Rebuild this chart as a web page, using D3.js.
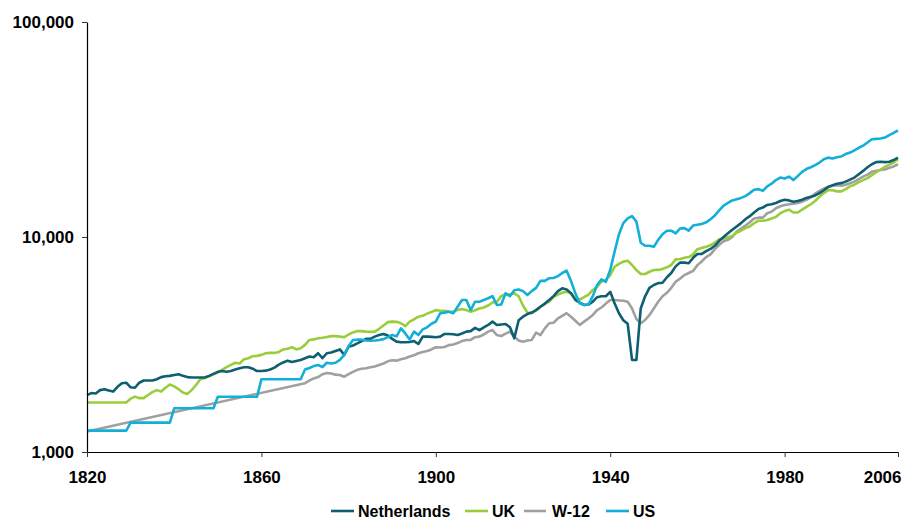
<!DOCTYPE html>
<html>
<head>
<meta charset="utf-8">
<script src="https://cdn.jsdelivr.net/npm/d3@7"></script>
<style>
  html, body { margin: 0; padding: 0; background: #fff; }
  svg { display: block; font-family: "Liberation Sans", Arial, Helvetica, sans-serif; }
</style>
</head>
<body>
<svg id="chart" width="904" height="520"></svg>
<script>
// ---------- DATA ----------
const seriesNames = ["Netherlands", "UK", "W-12", "US"];
const yTickValues = [1000, 10000, 100000];
const xTickValues = [1820, 1860, 1900, 1940, 1980, 2006];

const netherlands = [
  [1820,1840],[1821,1880],[1822,1870],[1823,1940],[1824,1960],[1825,1930],[1826,1910],[1827,2010],[1828,2090],[1829,2100],
  [1830,2000],[1831,1990],[1832,2100],[1833,2150],[1834,2150],[1835,2150],[1836,2180],[1837,2230],[1838,2250],[1839,2260],
  [1840,2280],[1841,2300],[1842,2260],[1843,2230],[1844,2220],[1845,2220],[1846,2220],[1847,2220],[1848,2260],[1849,2310],
  [1850,2360],[1851,2380],[1852,2360],[1853,2380],[1854,2420],[1855,2450],[1856,2480],[1857,2480],[1858,2440],[1859,2380],
  [1860,2380],[1861,2390],[1862,2420],[1863,2470],[1864,2550],[1865,2610],[1866,2660],[1867,2620],[1868,2650],[1869,2680],
  [1870,2730],[1871,2780],[1872,2760],[1873,2880],[1874,2730],[1875,2880],[1876,2900],[1877,2950],[1878,3000],[1879,2830],
  [1880,3090],[1881,3130],[1882,3200],[1883,3280],[1884,3360],[1885,3360],[1886,3440],[1887,3500],[1888,3540],[1889,3480],
  [1890,3360],[1891,3260],[1892,3240],[1893,3240],[1894,3250],[1895,3280],[1896,3180],[1897,3440],[1898,3440],[1899,3430],
  [1900,3420],[1901,3440],[1902,3540],[1903,3540],[1904,3530],[1905,3500],[1906,3560],[1907,3630],[1908,3650],[1909,3780],
  [1910,3690],[1911,3800],[1912,3900],[1913,4040],[1914,3900],[1915,3920],[1916,3940],[1917,3800],[1918,3380],[1919,4100],
  [1920,4260],[1921,4380],[1922,4450],[1923,4570],[1924,4740],[1925,4900],[1926,5090],[1927,5310],[1928,5600],[1929,5770],
  [1930,5700],[1931,5470],[1932,5100],[1933,4950],[1934,4830],[1935,4850],[1936,5000],[1937,5250],[1938,5300],[1939,5300],
  [1940,5560],[1941,4920],[1942,4420],[1943,4100],[1944,3950],[1945,2680],[1946,2680],[1947,4650],[1948,5300],[1949,5800],
  [1950,5980],[1951,6100],[1952,6130],[1953,6500],[1954,6800],[1955,7300],[1956,7600],[1957,7600],[1958,7550],[1959,8000],
  [1960,8340],[1961,8350],[1962,8600],[1963,8800],[1964,9100],[1965,9600],[1966,10000],[1967,10400],[1968,10800],[1969,11200],
  [1970,11600],[1971,12100],[1972,12500],[1973,13000],[1974,13500],[1975,13700],[1976,14100],[1977,14200],[1978,14400],[1979,14700],
  [1980,14900],[1981,14800],[1982,14600],[1983,14700],[1984,14900],[1985,15200],[1986,15400],[1987,15600],[1988,16000],[1989,16500],
  [1990,17100],[1991,17400],[1992,17700],[1993,17800],[1994,18100],[1995,18500],[1996,18900],[1997,19600],[1998,20300],[1999,21100],
  [2000,21800],[2001,22300],[2002,22400],[2003,22300],[2004,22400],[2005,22800],[2006,23400]
];

const uk = [
  [1820,1700],[1829,1700],
  [1830,1770],[1831,1810],[1832,1780],[1833,1780],[1834,1840],[1835,1900],[1836,1940],[1837,1910],[1838,1990],[1839,2060],
  [1840,2020],[1841,1960],[1842,1890],[1843,1860],[1844,1940],[1845,2050],[1846,2180],[1847,2210],[1848,2250],[1849,2300],
  [1850,2340],[1851,2410],[1852,2480],[1853,2540],[1854,2600],[1855,2580],[1856,2700],[1857,2730],[1858,2790],[1859,2800],
  [1860,2830],[1861,2880],[1862,2890],[1863,2890],[1864,2920],[1865,3000],[1866,3020],[1867,3070],[1868,3000],[1869,3040],
  [1870,3150],[1871,3320],[1872,3340],[1873,3380],[1874,3400],[1875,3430],[1876,3460],[1877,3460],[1878,3440],[1879,3420],
  [1880,3520],[1881,3600],[1882,3650],[1883,3650],[1884,3630],[1885,3620],[1886,3630],[1887,3740],[1888,3880],[1889,4020],
  [1890,4040],[1891,4030],[1892,3970],[1893,3850],[1894,4040],[1895,4140],[1896,4260],[1897,4300],[1898,4400],[1899,4480],
  [1900,4570],[1901,4540],[1902,4540],[1903,4500],[1904,4490],[1905,4580],[1906,4620],[1907,4570],[1908,4490],[1909,4560],
  [1910,4650],[1911,4700],[1912,4800],[1913,4960],[1914,5000],[1915,5310],[1916,5430],[1917,5400],[1918,5470],[1919,5300],
  [1920,4800],[1921,4450],[1922,4420],[1923,4570],[1924,4740],[1925,4880],[1926,5000],[1927,5270],[1928,5400],[1929,5500],
  [1930,5560],[1931,5470],[1932,5190],[1933,5120],[1934,5250],[1935,5400],[1936,5670],[1937,5870],[1938,6200],[1939,6310],
  [1940,6650],[1941,7270],[1942,7500],[1943,7680],[1944,7750],[1945,7410],[1946,7020],[1947,6730],[1948,6730],[1949,6890],
  [1950,7020],[1951,7030],[1952,7100],[1953,7230],[1954,7410],[1955,7870],[1956,7900],[1957,8000],[1958,8070],[1959,8300],
  [1960,8780],[1961,8900],[1962,9000],[1963,9150],[1964,9420],[1965,9750],[1966,9850],[1967,9970],[1968,10100],[1969,10500],
  [1970,10700],[1971,11000],[1972,11200],[1973,11600],[1974,11900],[1975,11900],[1976,12000],[1977,12200],[1978,12400],[1979,12900],
  [1980,13200],[1981,13400],[1982,13000],[1983,13000],[1984,13400],[1985,13800],[1986,14200],[1987,14700],[1988,15400],[1989,16000],
  [1990,16500],[1991,16500],[1992,16300],[1993,16300],[1994,16700],[1995,17200],[1996,17500],[1997,18000],[1998,18400],[1999,18800],
  [2000,19400],[2001,20000],[2002,20600],[2003,21200],[2004,21700],[2005,22200],[2006,23000]
];

const w12 = [
  [1820,1245],[1870,2090],
  [1871,2150],[1872,2200],[1873,2230],[1874,2300],[1875,2330],[1876,2320],[1877,2290],[1878,2280],[1879,2240],
  [1880,2300],[1881,2360],[1882,2410],[1883,2440],[1884,2450],[1885,2480],[1886,2500],[1887,2540],[1888,2580],[1889,2640],
  [1890,2670],[1891,2660],[1892,2700],[1893,2730],[1894,2780],[1895,2820],[1896,2880],[1897,2920],[1898,2950],[1899,3000],
  [1900,3070],[1901,3060],[1902,3080],[1903,3140],[1904,3160],[1905,3210],[1906,3280],[1907,3320],[1908,3320],[1909,3420],
  [1910,3440],[1911,3520],[1912,3630],[1913,3690],[1914,3500],[1915,3460],[1916,3550],[1917,3630],[1918,3440],[1919,3300],
  [1920,3260],[1921,3300],[1922,3320],[1923,3590],[1924,3500],[1925,3760],[1926,3970],[1927,3990],[1928,4180],[1929,4300],
  [1930,4420],[1931,4260],[1932,4080],[1933,3900],[1934,4040],[1935,4180],[1936,4340],[1937,4570],[1938,4700],[1939,4900],
  [1940,5090],[1941,5090],[1942,5070],[1943,5050],[1944,5000],[1945,4650],[1946,4150],[1947,3970],[1948,4110],[1949,4340],
  [1950,4650],[1951,5000],[1952,5300],[1953,5500],[1954,5800],[1955,6190],[1956,6400],[1957,6650],[1958,6800],[1959,6950],
  [1960,7400],[1961,7700],[1962,8070],[1963,8300],[1964,8780],[1965,9200],[1966,9550],[1967,9700],[1968,10000],[1969,10600],
  [1970,10950],[1971,11300],[1972,11700],[1973,12200],[1974,12300],[1975,12300],[1976,12900],[1977,13100],[1978,13600],[1979,13900],
  [1980,14100],[1981,14200],[1982,14300],[1983,14400],[1984,14600],[1985,14900],[1986,15300],[1987,15900],[1988,16400],[1989,16800],
  [1990,17100],[1991,17300],[1992,17400],[1993,17300],[1994,17500],[1995,17800],[1996,18100],[1997,18600],[1998,19100],[1999,19500],
  [2000,20100],[2001,20300],[2002,20500],[2003,20600],[2004,21000],[2005,21300],[2006,21800]
];

const us = [
  [1820,1257],[1829,1257],[1830,1370],[1839,1370],[1840,1597],[1849,1597],[1850,1808],[1859,1808],[1860,2178],[1869,2178],
  [1870,2420],[1871,2460],[1872,2510],[1873,2540],[1874,2480],[1875,2600],[1876,2580],[1877,2600],[1878,2680],[1879,2830],
  [1880,3110],[1881,3320],[1882,3330],[1883,3330],[1884,3300],[1885,3290],[1886,3300],[1887,3320],[1888,3350],[1889,3420],
  [1890,3500],[1891,3450],[1892,3760],[1893,3560],[1894,3340],[1895,3630],[1896,3500],[1897,3720],[1898,3800],[1899,3950],
  [1900,4040],[1901,4420],[1902,4450],[1903,4490],[1904,4420],[1905,4740],[1906,5090],[1907,5090],[1908,4570],[1909,5000],
  [1910,5000],[1911,5090],[1912,5190],[1913,5310],[1914,4830],[1915,4850],[1916,5470],[1917,5310],[1918,5650],[1919,5700],
  [1920,5600],[1921,5370],[1922,5600],[1923,5800],[1924,6250],[1925,6250],[1926,6430],[1927,6450],[1928,6580],[1929,6800],
  [1930,6970],[1931,6250],[1932,5470],[1933,4920],[1934,4830],[1935,4850],[1936,5310],[1937,5980],[1938,6350],[1939,6190],
  [1940,7020],[1941,8540],[1942,10300],[1943,11600],[1944,12200],[1945,12500],[1946,11800],[1947,9400],[1948,9100],[1949,9100],
  [1950,9000],[1951,9700],[1952,10300],[1953,10700],[1954,10700],[1955,10400],[1956,10950],[1957,11000],[1958,10700],[1959,11300],
  [1960,11400],[1961,11500],[1962,11700],[1963,12100],[1964,12600],[1965,13300],[1966,14000],[1967,14400],[1968,14800],[1969,15000],
  [1970,15200],[1971,15500],[1972,16000],[1973,16600],[1974,16700],[1975,16400],[1976,17200],[1977,17700],[1978,18400],[1979,18900],
  [1980,18700],[1981,19100],[1982,18400],[1983,19200],[1984,20100],[1985,20700],[1986,21100],[1987,21600],[1988,22200],[1989,23000],
  [1990,23400],[1991,23200],[1992,23500],[1993,23700],[1994,24300],[1995,24700],[1996,25300],[1997,26000],[1998,26600],[1999,27500],
  [2000,28500],[2001,28600],[2002,28700],[2003,29000],[2004,29800],[2005,30500],[2006,31300]
];

const seriesColors = ["#0f5f72", "#9bcc3c", "#a0a0a0", "#12b0d8"];

// ---------- CHART ----------
const svg = d3.select("#chart");
const x = d3.scaleLinear().domain([1820, 2006]).range([87, 898]);
const y = d3.scaleLog().domain([1000, 100000]).range([452, 22]);

const seriesData = [netherlands, uk, w12, us];

const line = d3.line()
  .x(d => x(d[0]))
  .y(d => y(d[1]));

const drawOrder = [2, 1, 0, 3];
svg.append("g")
  .selectAll("path")
  .data(drawOrder)
  .join("path")
  .attr("d", i => line(seriesData[i]))
  .attr("fill", "none")
  .attr("stroke", i => seriesColors[i])
  .attr("stroke-width", 2.6)
  .attr("stroke-linejoin", "round")
  .attr("stroke-linecap", "butt");

// Y axis
const yAxis = svg.append("g")
  .attr("transform", "translate(87,0)")
  .call(d3.axisLeft(y).tickValues(yTickValues).tickFormat(d3.format(",")).tickSize(5).tickSizeOuter(0).tickPadding(8));
yAxis.select(".domain").attr("stroke", "#000").attr("stroke-width", 1.2);
yAxis.selectAll(".tick line").attr("stroke", "#333");
yAxis.selectAll("text")
  .attr("font-size", 17).attr("font-weight", "bold").attr("fill", "#000")
  .attr("font-family", "'Liberation Sans', Arial, sans-serif");

// X axis
const xAxis = svg.append("g")
  .attr("transform", "translate(0,452)")
  .call(d3.axisBottom(x).tickValues(xTickValues).tickFormat(d3.format("d")).tickSize(5).tickSizeOuter(0).tickPadding(14));
xAxis.select(".domain").attr("stroke", "#000").attr("stroke-width", 1.2);
xAxis.selectAll(".tick line").attr("stroke", "#333");
xAxis.selectAll("text")
  .attr("font-size", 17).attr("font-weight", "bold").attr("fill", "#000")
  .attr("font-family", "'Liberation Sans', Arial, sans-serif");
xAxis.selectAll(".tick").filter(d => d === 2006).select("text")
  .attr("text-anchor", "end").attr("x", 3);

// Legend
const legendPos = [
  { x1: 331, x2: 354, tx: 358 },
  { x1: 465, x2: 488, tx: 492 },
  { x1: 524, x2: 546, tx: 552 },
  { x1: 606, x2: 629, tx: 633 }
];
const legend = svg.append("g");
const items = legend.selectAll("g").data(seriesNames).join("g");
items.append("line")
  .attr("x1", (d, i) => legendPos[i].x1).attr("x2", (d, i) => legendPos[i].x2)
  .attr("y1", 511).attr("y2", 511)
  .attr("stroke", (d, i) => seriesColors[i]).attr("stroke-width", 2.6);
items.append("text")
  .attr("x", (d, i) => legendPos[i].tx).attr("y", 516.5)
  .attr("font-size", 16).attr("font-weight", "bold").attr("fill", "#000")
  .text(d => d);
</script>
</body>
</html>
